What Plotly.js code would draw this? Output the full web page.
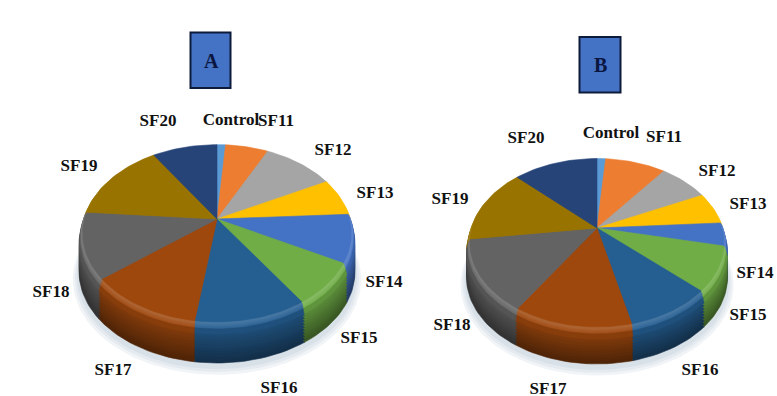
<!DOCTYPE html>
<html>
<head>
<meta charset="utf-8">
<script src="https://cdn.plot.ly/plotly-3.0.1.min.js"></script>
<style>html,body{margin:0;padding:0;background:#fff}#chart{width:777px;height:396px}</style>
</head>
<body>
<div id="chart"></div>
<script>
// Percentage share of each treatment in the two panels
const categories = ['Control','SF11','SF12','SF13','SF14','SF15','SF16','SF17','SF18','SF19','SF20'];
const valuesA = [1.2, 6.0, 10.1, 6.8, 8.7, 7.8, 11.6, 12.0, 12.0, 14.6, 9.1];
const valuesB = [1.3, 9.1, 7.5, 6.1, 4.4, 8.5, 9.4, 12.8, 13.8, 14.4, 12.7];
const colors = ['#5b9bd5','#ed7d31','#a5a5a5','#ffc000','#4472c4','#70ad47','#255e91','#9e480e','#636363','#997300','#264478'];

// Label anchor points in page pixels
const labelXA = [231,276,333,375,384,359,279,113,51,79,158];
const labelYA = [121,122,151,194,283,339,389,371,293,167,122];
const labelXB = [611,664,717,748,755,748,700,548,452,450,526];
const labelYB = [134,138,172,205,274,316,371,390,326,200,139];

// Tilted-disc geometry for each panel
const pieA = {cx:217, cy:219, a:136, b:88.5, k:0.165, depth:38};
const pieB = {cx:597, cy:228, a:128.4, b:83.7, k:0.179, depth:34};

function mix(hex, target, t){
  const c = [1,3,5].map(i => parseInt(hex.substr(i,2),16));
  const m = c.map((v,i) => Math.round(v + (target[i]-v)*t));
  return `rgb(${m[0]},${m[1]},${m[2]})`;
}
const shade = (hex,t) => t>=0 ? mix(hex,[255,255,255],t) : mix(hex,[0,0,0],-t);

// Perspective projection of a disc point to page pixels
function project(p, theta, r, offset){
  const u = r*Math.sin(theta), v = r*Math.cos(theta);
  const w = 1 + p.k*v;
  return [p.cx + p.a*u/w, p.cy - p.b*v/w + offset];
}

function wedge(p, a0, a1, scale, offset, fill, name){
  const apex = project(p,0,0,offset);
  const xs=[apex[0]], ys=[apex[1]];
  const steps = Math.max(2, Math.ceil((a1-a0)/(Math.PI/90)));
  for(let i=0;i<=steps;i++){
    const pt = project(p, a0+(a1-a0)*i/steps, scale, offset);
    xs.push(pt[0]); ys.push(pt[1]);
  }
  xs.push(apex[0]); ys.push(apex[1]);
  return {x:xs,y:ys,mode:'lines',fill:'toself',fillcolor:fill,line:{width:0.6,color:fill},hoverinfo:'text',text:name,showlegend:false};
}

function outline(p, grow, offset, fill){
  const xs=[], ys=[];
  for(let i=0;i<=180;i++){
    const pt = project(p, i*Math.PI/90, grow, offset);
    xs.push(pt[0]); ys.push(pt[1]);
  }
  return {x:xs,y:ys,mode:'lines',fill:'toself',fillcolor:fill,line:{width:0},hoverinfo:'skip',showlegend:false};
}

function pieTraces(p, values){
  const out = [];
  // soft shadow below the disc
  for(const [g,o] of [[1.045,6],[1.03,5],[1.015,4]]){
    out.push(outline(p, g, p.depth+o, 'rgba(120,150,175,0.10)'));
  }
  const total = values.reduce((s,v)=>s+v,0);
  const edges=[0];
  values.forEach(v => edges.push(edges[edges.length-1]+v/total*2*Math.PI));
  // wall bands from the base up, then the bevel, then the face
  const layers=[];
  const bevel = 9;
  for(let d=p.depth; d>bevel; d-=3){
    const t=(d-bevel)/(p.depth-bevel);
    layers.push({d, s:1, tone:-0.18-0.32*t});
  }
  for(let d=bevel; d>0; d-=1.5){
    const t=d/bevel;
    layers.push({d, s:1-0.02*(1-t), tone: t>0.55 ? -0.14 : 0.14*(1-t/0.55)+0.05});
  }
  for(const l of layers){
    values.forEach((_,i)=>{
      out.push(wedge(p, edges[i], edges[i+1], l.s, l.d, shade(colors[i],l.tone), categories[i]));
    });
  }
  values.forEach((_,i)=>{
    out.push(wedge(p, edges[i], edges[i+1], 0.975, 0, colors[i], categories[i]));
  });
  return out;
}

function labelTrace(xs, ys){
  return {x:xs,y:ys,mode:'text',text:categories,textposition:'middle center',
    textfont:{family:'"Liberation Serif", serif',size:17,color:'#111'},
    hoverinfo:'skip',showlegend:false,cliponaxis:false};
}

const hidden = {visible:false,fixedrange:true};
const layout = {
  width:777,height:396,margin:{l:0,r:0,t:0,b:0},
  paper_bgcolor:'#fff',plot_bgcolor:'#fff',showlegend:false,
  xaxis:{...hidden,range:[0,777]},
  yaxis:{...hidden,range:[396,0]},
  shapes:[
    {type:'rect',x0:190.5,x1:230.5,y0:32.5,y1:88,fillcolor:'#4472c4',line:{color:'#0d1b3a',width:2}},
    {type:'rect',x0:579.5,x1:620.5,y0:37,y1:92.5,fillcolor:'#4472c4',line:{color:'#0d1b3a',width:2}}
  ],
  annotations:[
    {x:211,y:61,text:'<b>A</b>',showarrow:false,font:{family:'"Liberation Serif", serif',size:20,color:'#0a1640'}},
    {x:600,y:65,text:'<b>B</b>',showarrow:false,font:{family:'"Liberation Serif", serif',size:20,color:'#0a1640'}}
  ]
};

const boldify = t => { t.text = t.text.map(s=>`<b>${s}</b>`); return t; };
const traces = [
  ...pieTraces(pieA, valuesA),
  ...pieTraces(pieB, valuesB),
  boldify(labelTrace(labelXA,labelYA)),
  boldify(labelTrace(labelXB,labelYB))
];
Plotly.newPlot('chart', traces, layout, {displayModeBar:false,staticPlot:true});
</script>
</body>
</html>
